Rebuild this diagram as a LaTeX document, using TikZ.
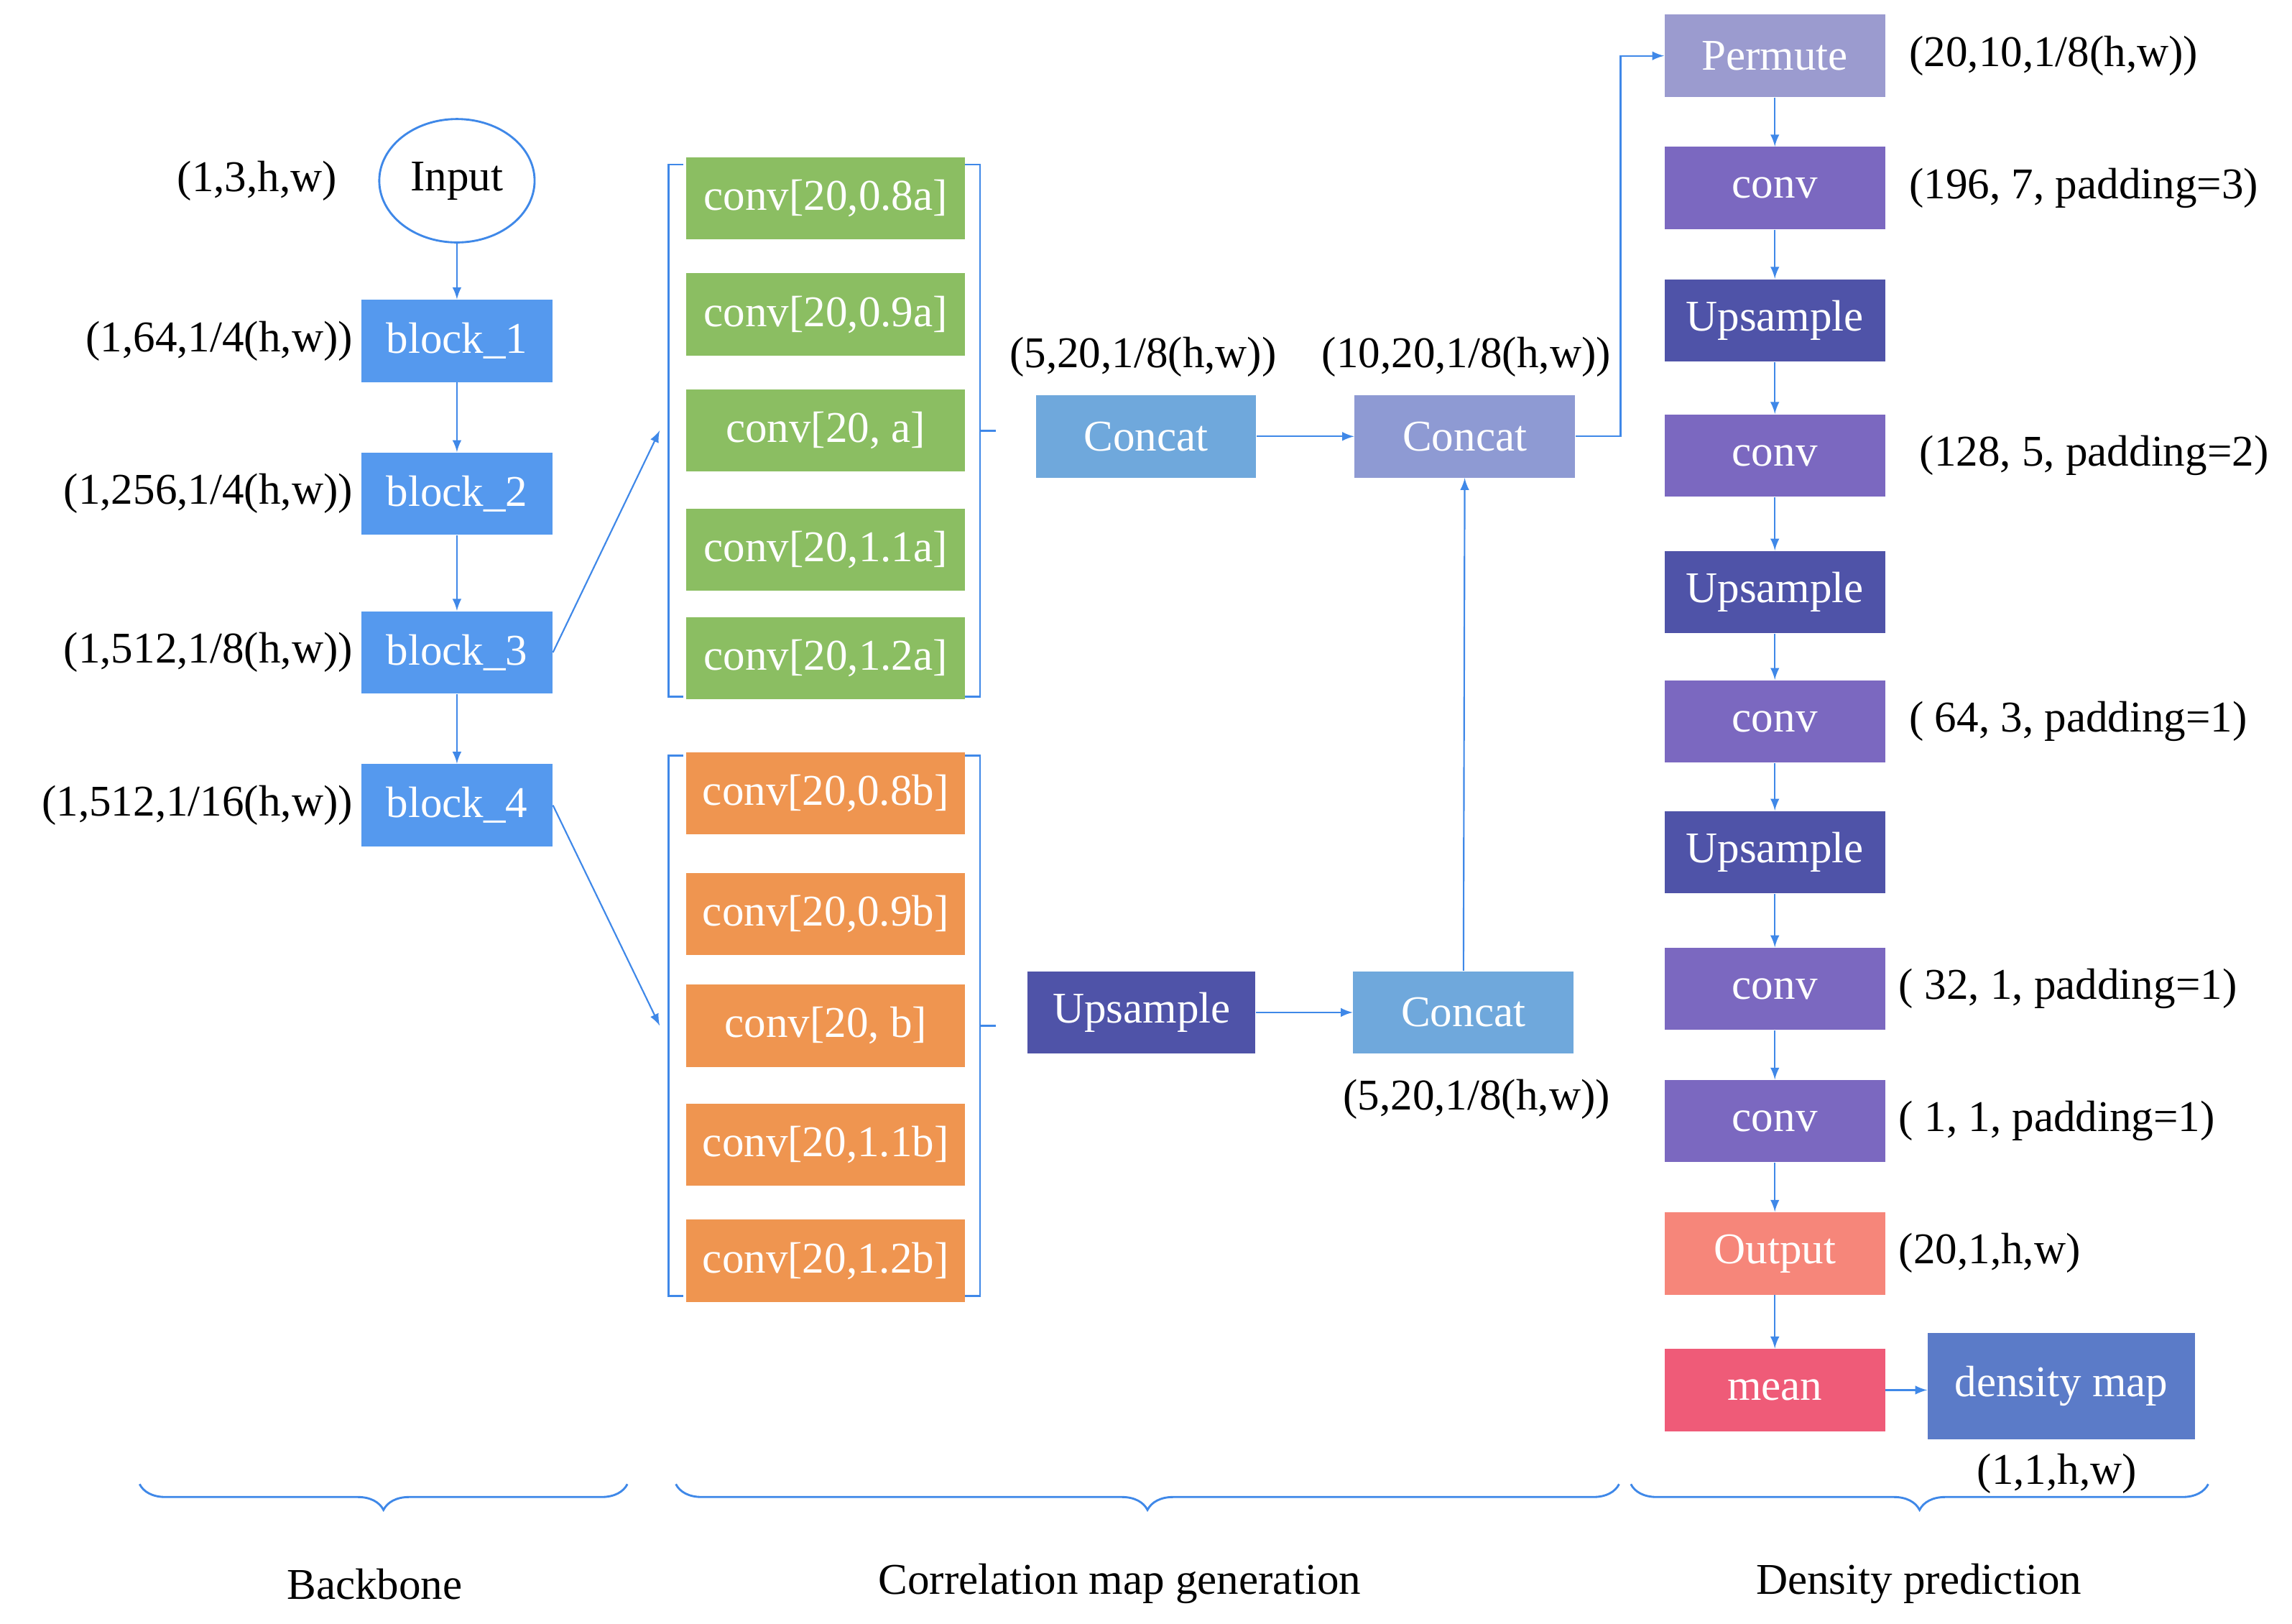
\documentclass[tikz,border=0pt]{standalone}
\usepackage{fontspec}
\setmainfont{Liberation Serif}
\usetikzlibrary{positioning,decorations.pathreplacing,shapes.geometric}
\definecolor{blk}{HTML}{5599EE}
\definecolor{grn}{HTML}{8BBE62}
\definecolor{org}{HTML}{EF9550}
\definecolor{cat}{HTML}{6FA8DC}
\definecolor{lav}{HTML}{8E9AD3}
\definecolor{ups}{HTML}{4F53A8}
\definecolor{cnv}{HTML}{7B68C0}
\definecolor{prm}{HTML}{9B9BCF}
\definecolor{out}{HTML}{F6867A}
\definecolor{mea}{HTML}{EF5B78}
\definecolor{den}{HTML}{5B7BC8}
\definecolor{arr}{HTML}{3F88E8}
\begin{document}
\begin{tikzpicture}[x=0.02cm, y=-0.02cm, font=\fontsize{17}{20}\selectfont,
	box/.style={text=white, minimum width=3cm, minimum height=1.12cm, inner sep=1pt},
	cv/.style={box, minimum width=3.8cm},
	lbl/.style={inner sep=1pt},
	link/.style={->, arr, semithick, >=latex},
	brk/.style={arr, thick},
	brace/.style={arr, thick, decorate, decoration={brace, mirror, amplitude=10pt}}]
	\useasboundingbox (0,0) rectangle (1560,1105);
	% backbone
	\node[draw=arr, thick, ellipse, minimum width=2.08cm, minimum height=1.68cm] (in) at (311,123) {Input};
	\node[lbl] at (175,123) {(1,3,h,w)};
	\node[box, fill=blk, minimum width=2.6cm] (b1) at (311,232) {block\_1};
	\node[box, fill=blk, minimum width=2.6cm] (b2) at (311,336) {block\_2};
	\node[box, fill=blk, minimum width=2.6cm] (b3) at (311,444) {block\_3};
	\node[box, fill=blk, minimum width=2.6cm] (b4) at (311,548) {block\_4};
	\node[lbl, left=2pt of b1] {(1,64,1/4(h,w))};
	\node[lbl, left=2pt of b2] {(1,256,1/4(h,w))};
	\node[lbl, left=2pt of b3] {(1,512,1/8(h,w))};
	\node[lbl, left=2pt of b4] {(1,512,1/16(h,w))};
	\draw[link] (in) -- (b1);
	\draw[link] (b1) -- (b2);
	\draw[link] (b2) -- (b3);
	\draw[link] (b3) -- (b4);
	% correlation convs
	\foreach \y/\t [count=\i] in {135/{0.8a},214/{0.9a},293/{ a},374/{1.1a},448/{1.2a}}
		\node[cv, fill=grn] (g\i) at (562,\y) {conv[20,\t]};
	\foreach \y/\t [count=\i] in {540/{0.8b},622/{0.9b},698/{ b},779/{1.1b},858/{1.2b}}
		\node[cv, fill=org] (o\i) at (562,\y) {conv[20,\t]};
	\draw[brk] (465,112) -- (455,112) -- (455,474) -- (465,474);
	\draw[brk] (657,112) -- (667,112) -- (667,474) -- (657,474);
	\draw[brk] (465,514) -- (455,514) -- (455,882) -- (465,882);
	\draw[brk] (657,514) -- (667,514) -- (667,882) -- (657,882);
	\draw[brk] (667,293) -- (678,293);
	\draw[brk] (667,698) -- (678,698);
	\coordinate (gl) at (449,293);
	\coordinate (ol) at (449,698);
	\draw[link] (b3.east) -- (gl);
	\draw[link] (b4.east) -- (ol);
	\node[box, fill=cat] (c1) at (780,297) {Concat};
	\node[box, fill=lav] (c2) at (997,297) {Concat};
	\node[box, fill=ups, minimum width=3.1cm] (u1) at (777,689) {Upsample};
	\node[box, fill=cat] (c3) at (996,689) {Concat};
	\node[lbl] at (778,243) {(5,20,1/8(h,w))};
	\node[lbl] at (998,243) {(10,20,1/8(h,w))};
	\node[lbl] at (1005,748) {(5,20,1/8(h,w))};
	\draw[link] (c1) -- (c2);
	\draw[link] (u1) -- (c3);
	\draw[link] (c3) -- (c2);
	% density prediction
	\node[box, fill=prm] (p) at (1208,38) {Permute};
	\node[box, fill=cnv] (d1) at (1208,128) {conv};
	\node[box, fill=ups] (d2) at (1208,218) {Upsample};
	\node[box, fill=cnv] (d3) at (1208,310) {conv};
	\node[box, fill=ups] (d4) at (1208,403) {Upsample};
	\node[box, fill=cnv] (d5) at (1208,491) {conv};
	\node[box, fill=ups] (d6) at (1208,580) {Upsample};
	\node[box, fill=cnv] (d7) at (1208,673) {conv};
	\node[box, fill=cnv] (d8) at (1208,763) {conv};
	\node[box, fill=out] (op) at (1208,853) {Output};
	\node[box, fill=mea] (mn) at (1208,946) {mean};
	\node[box, fill=den, minimum width=3.64cm, minimum height=1.44cm, anchor=north] (dm) at (1403,907) {density map};
	\draw[link] (c2.east) -- (1103,297) |- (p.west);
	\draw[link] (p) -- (d1);
	\draw[link] (d1) -- (d2);
	\draw[link] (d2) -- (d3);
	\draw[link] (d3) -- (d4);
	\draw[link] (d4) -- (d5);
	\draw[link] (d5) -- (d6);
	\draw[link] (d6) -- (d7);
	\draw[link] (d7) -- (d8);
	\draw[link] (d8) -- (op);
	\draw[link] (op) -- (mn);
	\draw[link] (mn) -- (mn -| dm.west);
	\node[lbl, right=8pt of p] {(20,10,1/8(h,w))};
	\node[lbl, right=8pt of d1] {(196, 7, padding=3)};
	\node[lbl, right=12pt of d3] {(128, 5, padding=2)};
	\node[lbl, right=8pt of d5] {( 64, 3, padding=1)};
	\node[lbl, right=4pt of d7] {( 32, 1, padding=1)};
	\node[lbl, right=4pt of d8] {( 1, 1, padding=1)};
	\node[lbl, right=4pt of op] {(20,1,h,w)};
	\node[lbl] at (1400,1003) {(1,1,h,w)};
	% braces
	\draw[brace] (95,1010) -- (427,1010);
	\draw[brace] (460,1010) -- (1102,1010);
	\draw[brace] (1110,1010) -- (1503,1010);
	\node[lbl] at (255,1078) {Backbone};
	\node[lbl] at (762,1078) {Correlation map generation};
	\node[lbl] at (1306,1078) {Density prediction};
\end{tikzpicture}
\end{document}
